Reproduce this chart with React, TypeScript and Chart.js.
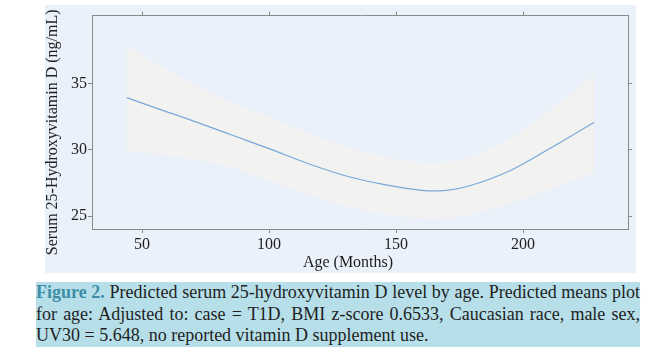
import React, { useEffect, useRef } from "react";
import { Chart, registerables } from "chart.js";

Chart.register(...registerables);

// Age in months
const ages = [44, 55, 70, 85, 100, 115, 130, 145, 160, 170, 180, 195, 210, 228];
// Predicted mean 25(OH)D (ng/mL)
const meanLevel = [33.95, 33.2, 32.2, 31.15, 30.1, 29.0, 28.05, 27.4, 26.95, 26.95, 27.35, 28.45, 30.05, 32.1];
// 95% CI upper / lower
const upperCI = [37.9, 36.6, 35.0, 33.6, 32.5, 31.3, 30.3, 29.5, 29.05, 29.1, 29.55, 30.9, 32.9, 35.7];
const lowerCI = [29.8, 29.7, 29.3, 28.7, 27.7, 26.7, 25.8, 25.15, 24.85, 24.85, 25.15, 26.0, 27.0, 28.3];

const xTickValues = [50, 100, 150, 200];
const yTickValues = [25, 30, 35];

const X_MIN = 30.3;
const X_MAX = 241.3;
const Y_MIN = 24.03;
const Y_MAX = 40.15;

const FONT = '"Liberation Serif", "Times New Roman", serif';
const AXIS_COLOR = "#8a8a8a";
const TEXT_COLOR = "#1e1e1e";
const BAND_COLOR = "#f2f2f1";

export default function App() {
  const ref = useRef<HTMLCanvasElement | null>(null);

  useEffect(() => {
    if (!ref.current) return;
    const pts = (vals: number[]) => ages.map((a, i) => ({ x: a, y: vals[i] }));
    const setTicks = (vals: number[]) => (axis: any) => {
      axis.ticks = vals.map((v) => ({ value: v }));
    };
    const chart = new Chart(ref.current, {
      type: "line",
      data: {
        datasets: [
          {
            label: "Predicted mean",
            data: pts(meanLevel),
            borderWidth: 1.2,
            borderColor: "#78a9d9",
            pointRadius: 0,
            fill: false,
            tension: 0.4,
            order: 0,
          },
          {
            label: "Upper 95% CI",
            data: pts(upperCI),
            borderWidth: 0,
            borderColor: "rgba(0,0,0,0)",
            backgroundColor: BAND_COLOR,
            pointRadius: 0,
            fill: "+1",
            tension: 0.4,
            order: 1,
          },
          {
            label: "Lower 95% CI",
            data: pts(lowerCI),
            borderWidth: 0,
            borderColor: "rgba(0,0,0,0)",
            backgroundColor: BAND_COLOR,
            pointRadius: 0,
            fill: false,
            tension: 0.4,
            order: 2,
          },
        ],
      },
      options: {
        responsive: false,
        animation: false,
        layout: { padding: 0 },
        plugins: {
          legend: { display: false },
          tooltip: { enabled: false },
        },
        scales: {
          x: {
            type: "linear",
            position: "bottom",
            min: X_MIN,
            max: X_MAX,
            afterBuildTicks: setTicks(xTickValues),
            afterFit: (a: any) => {
              a.height = 44;
            },
            grid: { drawOnChartArea: false, drawTicks: true, tickLength: 4, color: AXIS_COLOR },
            border: { display: true, color: AXIS_COLOR, width: 1 },
            ticks: {
              padding: 2,
              color: TEXT_COLOR,
              font: { family: FONT, size: 16 },
              maxRotation: 0,
            },
            title: {
              display: true,
              text: "Age (Months)      ",
              color: TEXT_COLOR,
              font: { family: FONT, size: 16 },
              padding: { top: 0, bottom: 1 },
            },
          },
          x2: {
            type: "linear",
            position: "top",
            min: X_MIN,
            max: X_MAX,
            afterBuildTicks: setTicks(xTickValues),
            afterFit: (a: any) => {
              a.height = 8;
            },
            grid: { drawOnChartArea: false, drawTicks: true, tickLength: 4, color: AXIS_COLOR },
            border: { display: true, color: AXIS_COLOR, width: 1 },
            ticks: { display: false },
          },
          y: {
            type: "linear",
            position: "left",
            min: Y_MIN,
            max: Y_MAX,
            afterBuildTicks: setTicks(yTickValues),
            afterFit: (a: any) => {
              a.width = 47;
            },
            grid: { drawOnChartArea: false, drawTicks: true, tickLength: 4, color: AXIS_COLOR },
            border: { display: true, color: AXIS_COLOR, width: 1 },
            ticks: {
              padding: 1,
              color: TEXT_COLOR,
              font: { family: FONT, size: 16 },
            },
            title: {
              display: true,
              text: "Serum 25-Hydroxyvitamin D (ng/mL)     ",
              color: TEXT_COLOR,
              font: { family: FONT, size: 16, lineHeight: 1 },
              padding: 0,
            },
          },
          y2: {
            type: "linear",
            position: "right",
            min: Y_MIN,
            max: Y_MAX,
            afterBuildTicks: setTicks(yTickValues),
            afterFit: (a: any) => {
              a.width = 8;
            },
            grid: { drawOnChartArea: false, drawTicks: true, tickLength: 4, color: AXIS_COLOR },
            border: { display: true, color: AXIS_COLOR, width: 1 },
            ticks: { display: false },
          },
        },
      },
    } as any);
    return () => chart.destroy();
  }, []);

  return (
    <div style={{ position: "absolute", left: 0, top: 0, width: 661, height: 356, background: "#ffffff" }}>
      <div
        style={{
          position: "absolute",
          left: 45,
          top: 5,
          width: 591,
          height: 268,
          background: "#ebf1fa",
        }}
      >
        <canvas ref={ref} width={591} height={268} style={{ display: "block", width: 591, height: 268 }} />
      </div>
      <div
        style={{
          position: "absolute",
          left: 36,
          top: 282,
          width: 604,
          height: 65,
          background: "#b7dfe9",
          fontFamily: FONT,
          fontSize: 18,
          lineHeight: "21.5px",
          color: "#1e1e1e",
          whiteSpace: "nowrap",
        }}
      >
        <div style={{ textAlign: "justify", textAlignLast: "justify" } as any}>
          <span style={{ color: "#3d8ea6", fontWeight: "bold" }}>Figure 2.</span> Predicted serum 25-hydroxyvitamin D level by age. Predicted means plot
        </div>
        <div style={{ textAlign: "justify", textAlignLast: "justify" } as any}>
          for age: Adjusted to: case = T1D, BMI z-score 0.6533, Caucasian race, male sex,
        </div>
        <div style={{ textAlign: "left" }}>UV30 = 5.648, no reported vitamin D supplement use.</div>
      </div>
    </div>
  );
}
